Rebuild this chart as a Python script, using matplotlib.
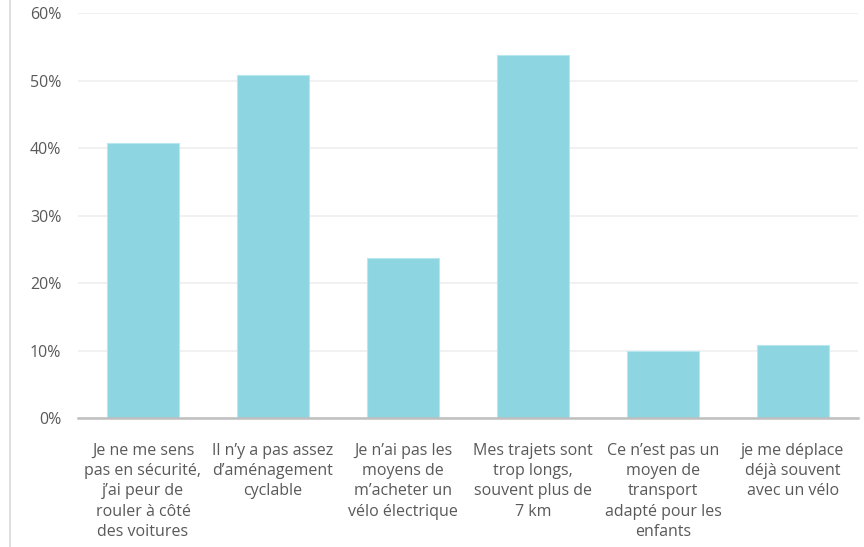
import matplotlib
matplotlib.use("Agg")
import matplotlib.pyplot as plt
from matplotlib.lines import Line2D
from matplotlib.ticker import FuncFormatter

categories = [
    "Je ne me sens\npas en sécurité,\nj’ai peur de\nrouler à côté\ndes voitures",
    "Il n’y a pas assez\nd’aménagement\ncyclable",
    "Je n’ai pas les\nmoyens de\nm’acheter un\nvélo électrique",
    "Mes trajets sont\ntrop longs,\nsouvent plus de\n7 km",
    "Ce n’est pas un\nmoyen de\ntransport\nadapté pour les\nenfants",
    "je me déplace\ndéjà souvent\navec un vélo",
]
values = [0.408, 0.508, 0.238, 0.538, 0.099, 0.109]
yticks = [0, 0.1, 0.2, 0.3, 0.4, 0.5, 0.6]

plt.rcParams['font.family'] = ['Open Sans', 'DejaVu Sans']

fig = plt.figure(figsize=(8.64, 5.47), dpi=100)
ax = fig.add_axes([78/864, 1-418.3/547, 780/864, 405/547])

x = list(range(len(categories)))
ax.bar(x, values, width=0.555, color='#8dd6e1', edgecolor='#b8e8ef', linewidth=0.8, zorder=3)

ax.set_xlim(-0.5, len(categories)-0.5)
ax.set_ylim(0, 0.6)
ax.set_yticks(yticks)
ax.yaxis.set_major_formatter(FuncFormatter(lambda v, p: f"{v*100:.0f}%"))
ax.set_xticks(x)
ax.set_xticklabels(categories, linespacing=1.37, ha='center', va='top')

for s in ['top', 'right', 'left']:
    ax.spines[s].set_visible(False)
ax.spines['bottom'].set_color('#bfbfbf')
ax.spines['bottom'].set_linewidth(1.8)
ax.spines['bottom'].set_zorder(4)

ax.grid(axis='y', color='#efefef', linewidth=1.2, zorder=0)
ax.set_axisbelow(True)
ax.tick_params(axis='both', length=0, labelsize=11.5, labelcolor='#595959')
ax.tick_params(axis='y', pad=12)
ax.tick_params(axis='x', pad=17.5)

fig.add_artist(Line2D([10/864, 10/864], [0, 1], color='#d9d9d9', linewidth=1.2, transform=fig.transFigure))

fig.savefig('out.png', dpi=100, facecolor='white')
